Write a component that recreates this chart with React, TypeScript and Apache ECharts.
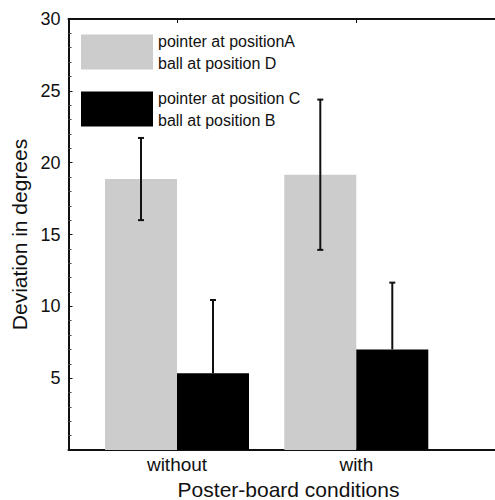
import React, { useEffect, useRef } from "react";
import * as echarts from "echarts";

const categories = ["without", "with"];
const seriesNames = [
  "pointer at positionA\nball at position D",
  "pointer at position C\nball at position B",
];
const grayMeans = [18.86, 19.16];
const grayErrors = [2.86, 5.23];
const blackMeans = [5.34, 7.0];
const blackErrors = [5.1, 4.65];
const yTicks = [5, 10, 15, 20, 25, 30];

const FONT = "Liberation Sans, Arial, sans-serif";
const BAR_W = 72;

export default function App() {
  const ref = useRef<HTMLDivElement>(null);
  useEffect(() => {
    if (!ref.current) return;
    const chart = echarts.init(ref.current, undefined, { renderer: "svg" });
    const pxPerUnit = 179.3;
    const xMin = -(177 - 68.5) / pxPerUnit;
    const xMax = xMin + 440 / pxPerUnit;

    const errData: any[] = [];
    grayMeans.forEach((m, i) => errData.push([i, m - grayErrors[i], m + grayErrors[i], -BAR_W / 2]));
    // black bars: only the upper whisker is visible above the black bar
    blackMeans.forEach((m, i) => errData.push([i, m, m + blackErrors[i], BAR_W / 2]));

    chart.setOption({
      animation: false,
      backgroundColor: "#ffffff",
      textStyle: { fontFamily: FONT },
      grid: { left: 68.5, top: 19, width: 440, height: 431, outerBoundsMode: "none", containLabel: false },
      legend: {
        left: 81,
        top: 30,
        padding: 0,
        orient: "vertical",
        icon: "rect",
        itemWidth: 72,
        itemHeight: 35,
        itemGap: 13,
        itemTextGap: 9,
        selectedMode: false,
        textStyle: { fontSize: 16, lineHeight: 22, color: "#111", fontFamily: FONT },
        data: seriesNames,
      },
      xAxis: [
        {
          type: "value",
          min: xMin,
          max: xMax,
          position: "bottom",
          splitLine: { show: false },
          axisLine: { show: true, onZero: false, lineStyle: { color: "#111", width: 2 } },
          axisTick: { show: false },
          axisLabel: {
            customValues: [0, 1],
            formatter: (v: number) => categories[Math.round(v)] ?? "",
            fontSize: 19,
            color: "#111",
            margin: 5,
            fontFamily: FONT,
          },
          name: "Poster-board conditions",
          nameLocation: "middle",
          nameGap: 28,
          nameTextStyle: { fontSize: 21, color: "#111", fontFamily: FONT },
        },
        {
          type: "value",
          min: xMin,
          max: xMax,
          position: "top",
          splitLine: { show: false },
          axisLine: { show: true, onZero: false, lineStyle: { color: "#111", width: 2 } },
          axisTick: { show: true, inside: true, length: 4, customValues: [0, 1], lineStyle: { color: "#111" } },
          axisLabel: { show: false },
        },
      ],
      yAxis: {
        type: "value",
        min: 0,
        max: 30,
        interval: 5,
        splitLine: { show: false },
        axisLine: { show: true, onZero: false, lineStyle: { color: "#111", width: 2 } },
        axisTick: { show: true, inside: true, length: 4, lineStyle: { color: "#111" } },
        minorTick: { show: true, splitNumber: 5, length: 3, lineStyle: { color: "#444" } },
        axisLabel: {
          formatter: (v: number) => (yTicks.includes(v) ? String(v) : ""),
          fontSize: 18,
          color: "#111",
          margin: 8,
          fontFamily: FONT,
        },
        name: "Deviation in degrees",
        nameLocation: "middle",
        nameRotate: 90,
        nameGap: 38,
        nameTextStyle: { fontSize: 21, color: "#111", fontFamily: FONT },
      },
      series: [
        {
          name: seriesNames[0],
          type: "bar",
          barWidth: BAR_W,
          barGap: "0%",
          itemStyle: { color: "#cccccc" },
          data: grayMeans.map((m, i) => [i, m]),
        },
        {
          name: seriesNames[1],
          type: "bar",
          barWidth: BAR_W,
          barGap: "0%",
          itemStyle: { color: "#000000" },
          data: blackMeans.map((m, i) => [i, m]),
        },
        {
          type: "custom",
          z: 10,
          data: errData,
          renderItem: (params: any, api: any) => {
            const x = api.value(0);
            const off = api.value(3);
            const lo = api.coord([x, api.value(1)]);
            const hi = api.coord([x, api.value(2)]);
            const cx = lo[0] + off;
            const cap = 3;
            const style = { stroke: "#111", lineWidth: 2 };
            const children: any[] = [
              { type: "line", shape: { x1: cx, y1: lo[1], x2: cx, y2: hi[1] }, style },
              { type: "line", shape: { x1: cx - cap, y1: hi[1], x2: cx + cap, y2: hi[1] }, style },
            ];
            if (off < 0) {
              children.push({ type: "line", shape: { x1: cx - cap, y1: lo[1], x2: cx + cap, y2: lo[1] }, style });
            }
            return { type: "group", children };
          },
        },
      ],
    });
    return () => chart.dispose();
  }, []);
  return <div ref={ref} style={{ width: 495, height: 500, position: "absolute", left: 0, top: 0 }} />;
}
